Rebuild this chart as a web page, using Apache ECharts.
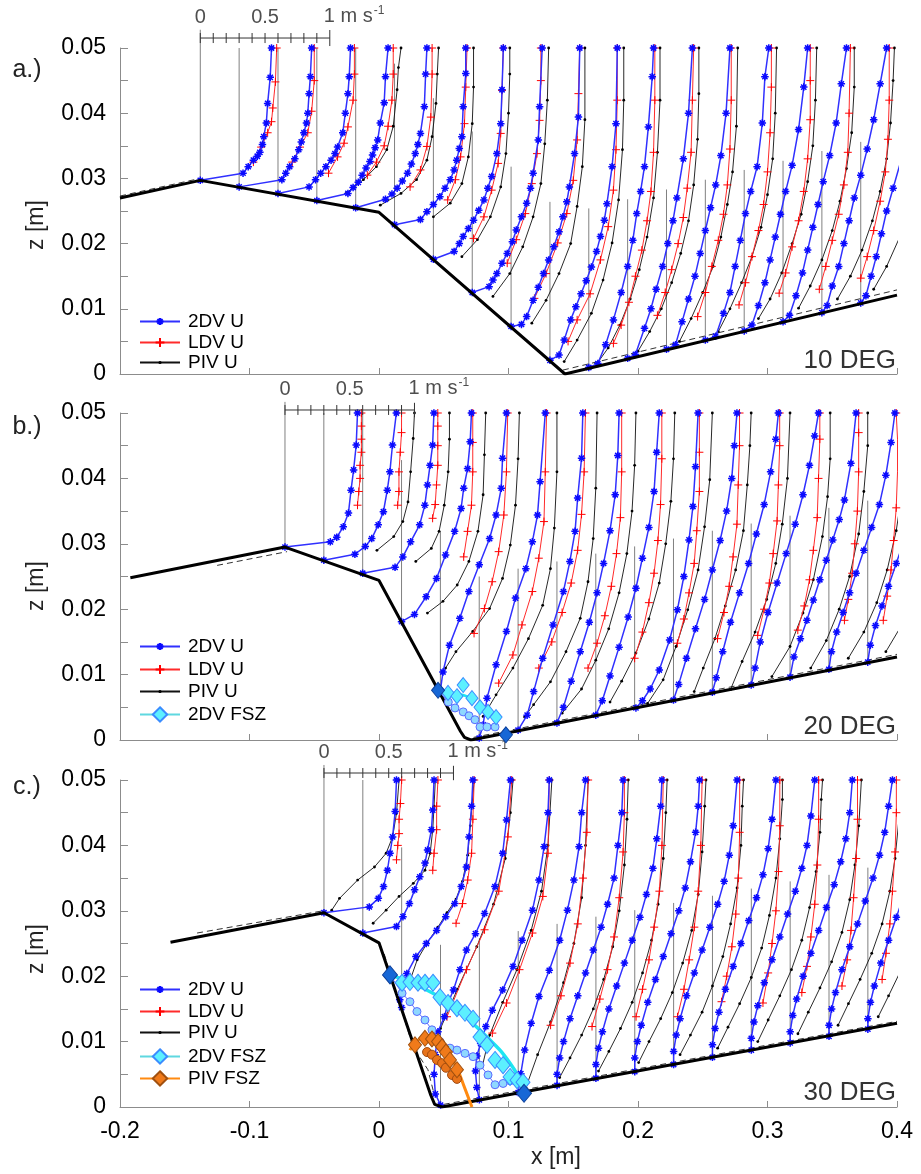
<!DOCTYPE html>
<html><head><meta charset="utf-8">
<script src="https://cdn.jsdelivr.net/npm/echarts@6/dist/echarts.min.js"></script>
<style>html,body{margin:0;padding:0;background:#fff}#c{width:921px;height:1174px}</style>
</head><body><div id="c"></div>
<script>
const FONT = '"Liberation Sans", Arial, Helvetica, sans-serif';
const VEL = 0.1; // 1 m/s of velocity is drawn as 0.1 m along x (scale bar)
const scaleTicks = [0,0.1,0.2,0.3,0.4,0.5,0.6,0.7,0.8,0.9,1.0];
const legendNames = ['2DV U','LDV U','PIV U','2DV FSZ','PIV FSZ'];
const panelTitles = ['a.)','b.)','c.)'];
const panelAngles = ['10 DEG','20 DEG','30 DEG'];

// ================= Panel a (10 DEG) =================
const stationsA = [-0.138,-0.108,-0.078,-0.048,-0.018,0.012,0.042,0.072,0.102,0.132,0.162,0.192,0.222,0.252,0.282,0.312,0.342,0.372];
const baseBotA = [0.0297,0.0286,0.0276,0.0265,0.0254,0.0227,0.0175,0.0124,0.0072,0.0020,0.0009,0.0023,0.0037,0.0051,0.0065,0.0079,0.0093,0.0108];
const baseTopA = [0.0528,0.05,0.05,0.05,0.05,0.0476,0.0423,0.0372,0.0318,0.0264,0.0254,0.0268,0.0283,0.0298,0.0313,0.0327,0.0342,0.0356];
const bedA = [[-0.2,0.027],[-0.138,0.0297],[0,0.0248],[0.1436,0],[0.4,0.0121]];
const bedDashA = [[-0.2,0.0273],[-0.138,0.03],[null,null],[0.142,0.0006],[0.4,0.0129]];
const dv2A = [
 [[0,0.0297],[0.33,0.0308],[0.37,0.0318],[0.41,0.0328],[0.44,0.0334],[0.46,0.034],[0.48,0.0352],[0.49,0.0364],[0.51,0.0385],[0.52,0.0415],[0.54,0.0455],[0.55,0.05]],
 [[0,0.0287],[0.33,0.0298],[0.36,0.0308],[0.39,0.0318],[0.43,0.033],[0.46,0.0344],[0.48,0.0356],[0.50,0.037],[0.52,0.0385],[0.53,0.040],[0.54,0.043],[0.55,0.0456],[0.56,0.05]],
 [[0,0.0277],[0.24,0.0287],[0.29,0.0298],[0.33,0.0308],[0.37,0.0318],[0.41,0.0328],[0.44,0.0338],[0.46,0.0348],[0.50,0.037],[0.52,0.040],[0.54,0.043],[0.55,0.0456],[0.56,0.05]],
 [[0,0.0266],[0.24,0.0277],[0.28,0.0286],[0.32,0.0294],[0.35,0.0305],[0.38,0.0316],[0.41,0.0326],[0.43,0.0336],[0.45,0.0347],[0.47,0.0359],[0.49,0.0385],[0.52,0.0416],[0.53,0.0456],[0.55,0.05]],
 [[0,0.0255],[0.23,0.0268],[0.28,0.0276],[0.32,0.0285],[0.36,0.0296],[0.40,0.0308],[0.43,0.0322],[0.46,0.0338],[0.48,0.0352],[0.50,0.0369],[0.53,0.041],[0.54,0.046],[0.55,0.05]],
 [[0,0.0229],[0.20,0.0237],[0.25,0.0249],[0.30,0.026],[0.35,0.0272],[0.39,0.0285],[0.43,0.0298],[0.46,0.0313],[0.48,0.0328],[0.50,0.0346],[0.52,0.0364],[0.53,0.041],[0.55,0.0461],[0.55,0.05]],
 [[0,0.0176],[0.16,0.0188],[0.20,0.02],[0.23,0.0211],[0.27,0.0223],[0.31,0.0236],[0.35,0.0251],[0.39,0.0267],[0.42,0.0285],[0.45,0.0303],[0.49,0.0338],[0.52,0.0384],[0.53,0.0436],[0.54,0.05]],
 [[0,0.0125],[0.13,0.0134],[0.16,0.0144],[0.19,0.0154],[0.23,0.017],[0.27,0.0185],[0.31,0.0203],[0.34,0.0221],[0.38,0.0241],[0.42,0.0262],[0.45,0.0285],[0.47,0.0308],[0.51,0.0359],[0.52,0.041],[0.54,0.05]],
 [[0,0.0073],[0.08,0.0076],[0.12,0.0088],[0.17,0.0113],[0.21,0.0133],[0.25,0.0154],[0.29,0.0175],[0.33,0.0195],[0.37,0.0218],[0.40,0.0241],[0.43,0.0264],[0.45,0.0287],[0.49,0.0338],[0.52,0.0394],[0.53,0.05]],
 [[0,0.0021],[0.07,0.0029],[0.11,0.0052],[0.16,0.0083],[0.20,0.0103],[0.24,0.0123],[0.28,0.0143],[0.32,0.0164],[0.36,0.0188],[0.39,0.0211],[0.42,0.0236],[0.44,0.0261],[0.48,0.0318],[0.51,0.0384],[0.52,0.05]],
 [[0,0.001],[0.07,0.0016],[0.13,0.0045],[0.19,0.0083],[0.25,0.0125],[0.30,0.0165],[0.34,0.0205],[0.37,0.0246],[0.40,0.028],[0.43,0.0318],[0.46,0.0379],[0.49,0.0456],[0.50,0.05]],
 [[0,0.0024],[0.06,0.003],[0.13,0.007],[0.18,0.01],[0.22,0.013],[0.27,0.0165],[0.31,0.02],[0.35,0.0235],[0.38,0.027],[0.43,0.033],[0.47,0.04],[0.50,0.05]],
 [[0,0.0038],[0.07,0.0045],[0.12,0.008],[0.17,0.0115],[0.22,0.015],[0.26,0.0185],[0.30,0.022],[0.34,0.0255],[0.38,0.029],[0.42,0.0335],[0.46,0.04],[0.49,0.05]],
 [[0,0.0052],[0.08,0.0058],[0.14,0.0093],[0.19,0.0125],[0.23,0.0165],[0.27,0.0205],[0.31,0.0246],[0.35,0.028],[0.40,0.0318],[0.44,0.0385],[0.46,0.0456],[0.49,0.05]],
 [[0,0.0066],[0.06,0.0075],[0.11,0.0105],[0.16,0.014],[0.20,0.0175],[0.24,0.021],[0.28,0.0245],[0.32,0.028],[0.37,0.032],[0.42,0.0375],[0.46,0.044],[0.49,0.05]],
 [[0,0.008],[0.05,0.009],[0.10,0.012],[0.15,0.0155],[0.19,0.019],[0.23,0.0225],[0.27,0.026],[0.31,0.0295],[0.36,0.0335],[0.41,0.0385],[0.45,0.0445],[0.49,0.05]],
 [[0,0.0094],[0.04,0.0105],[0.08,0.0135],[0.13,0.0165],[0.17,0.02],[0.21,0.0235],[0.25,0.027],[0.30,0.0305],[0.35,0.0345],[0.40,0.039],[0.45,0.0445],[0.50,0.05]],
 [[0,0.0109],[0.04,0.012],[0.08,0.015],[0.12,0.018],[0.16,0.0215],[0.20,0.025],[0.25,0.0285],[0.30,0.032],[0.35,0.036],[0.40,0.0405],[0.45,0.0455],[0.50,0.05]]
];
const ldvA = [
 [[0.41,0.0325],[0.47,0.0348],[0.52,0.037],[0.55,0.0387],[0.56,0.0408],[0.58,0.0448],[0.59,0.05]],
 [[0.41,0.0325],[0.47,0.0348],[0.53,0.037],[0.56,0.0403],[0.58,0.045],[0.58,0.05]],
 [[0.39,0.0308],[0.46,0.0333],[0.51,0.0354],[0.54,0.0379],[0.58,0.042],[0.59,0.046],[0.59,0.05]],
 [[0.39,0.0305],[0.46,0.0325],[0.52,0.035],[0.55,0.038],[0.58,0.042],[0.59,0.046],[0.59,0.05]],
 [[0.42,0.0287],[0.50,0.0313],[0.55,0.0349],[0.58,0.0394],[0.59,0.046],[0.59,0.05]],
 [[0.41,0.0267],[0.47,0.0298],[0.51,0.0333],[0.54,0.0384],[0.55,0.044],[0.56,0.05]],
 [[0.31,0.0208],[0.39,0.0241],[0.45,0.0282],[0.50,0.0323],[0.52,0.0369],[0.53,0.0435],[0.54,0.05]],
 [[0.27,0.017],[0.34,0.0206],[0.41,0.0246],[0.46,0.0292],[0.50,0.0338],[0.52,0.0389],[0.53,0.045],[0.53,0.05]],
 [[0.18,0.0116],[0.27,0.0154],[0.36,0.0201],[0.43,0.0246],[0.48,0.0297],[0.51,0.0359],[0.52,0.043],[0.53,0.05]],
 [[0.14,0.005],[0.21,0.0083],[0.31,0.0123],[0.39,0.0175],[0.45,0.0226],[0.49,0.0282],[0.51,0.0344],[0.52,0.042],[0.52,0.05]],
 [[0.19,0.0047],[0.25,0.0075],[0.31,0.011],[0.36,0.015],[0.41,0.019],[0.45,0.0235],[0.48,0.028],[0.50,0.034],[0.51,0.042],[0.51,0.05]],
 [[0.23,0.009],[0.29,0.0125],[0.34,0.016],[0.39,0.02],[0.43,0.024],[0.46,0.0285],[0.49,0.034],[0.50,0.042],[0.51,0.05]],
 [[0.24,0.0088],[0.30,0.0125],[0.35,0.0165],[0.40,0.0205],[0.44,0.0245],[0.47,0.029],[0.49,0.0345],[0.50,0.042],[0.50,0.05]],
 [[0.26,0.0106],[0.31,0.014],[0.36,0.018],[0.41,0.022],[0.45,0.026],[0.48,0.031],[0.50,0.037],[0.51,0.044],[0.51,0.05]],
 [[0.27,0.0124],[0.32,0.0155],[0.37,0.0195],[0.42,0.0235],[0.46,0.028],[0.49,0.033],[0.51,0.039],[0.51,0.045],[0.51,0.05]],
 [[0.28,0.013],[0.33,0.0165],[0.38,0.0205],[0.43,0.0245],[0.47,0.029],[0.50,0.034],[0.51,0.04],[0.52,0.05]],
 [[0.30,0.0147],[0.35,0.018],[0.40,0.022],[0.45,0.0265],[0.49,0.031],[0.51,0.036],[0.52,0.042],[0.52,0.05]],
 [[0.30,0.016],[0.36,0.0195],[0.41,0.0235],[0.46,0.028],[0.50,0.033],[0.52,0.039],[0.53,0.045],[0.53,0.05]]
];
const pivA = [
 null, null, null,
 [[0.23,0.0278],[0.36,0.0298],[0.46,0.0318],[0.54,0.0344],[0.59,0.038],[0.62,0.0436],[0.63,0.047],[0.65,0.05]],
 [[0.19,0.0259],[0.35,0.0277],[0.47,0.0298],[0.55,0.0328],[0.59,0.0364],[0.62,0.0415],[0.63,0.046],[0.64,0.05]],
 [[0.30,0.0241],[0.43,0.0262],[0.52,0.0292],[0.57,0.0333],[0.60,0.0384],[0.61,0.044],[0.61,0.05]],
 [[0.22,0.018],[0.34,0.0206],[0.44,0.0241],[0.52,0.0287],[0.56,0.0338],[0.58,0.04],[0.59,0.046],[0.59,0.05]],
 [[0.16,0.0119],[0.29,0.0154],[0.39,0.0195],[0.47,0.0241],[0.53,0.0292],[0.56,0.0353],[0.58,0.042],[0.59,0.05]],
 [[0.16,0.0078],[0.27,0.0113],[0.37,0.0154],[0.46,0.02],[0.51,0.0257],[0.55,0.0318],[0.57,0.039],[0.57,0.05]],
 [[0.11,0.0019],[0.21,0.0052],[0.32,0.0093],[0.41,0.0144],[0.48,0.0201],[0.53,0.0267],[0.56,0.0344],[0.57,0.042],[0.57,0.05]],
 [[0.06,0.0015],[0.15,0.004],[0.24,0.0075],[0.32,0.0115],[0.39,0.016],[0.45,0.021],[0.50,0.027],[0.53,0.034],[0.55,0.042],[0.55,0.05]],
 [[0.08,0.0035],[0.17,0.0065],[0.26,0.01],[0.34,0.014],[0.41,0.0185],[0.47,0.0235],[0.51,0.029],[0.54,0.036],[0.55,0.043],[0.55,0.05]],
 [[0.10,0.005],[0.19,0.0085],[0.28,0.0125],[0.36,0.0165],[0.42,0.021],[0.47,0.026],[0.51,0.031],[0.54,0.038],[0.55,0.05]],
 [[0.10,0.0065],[0.19,0.01],[0.28,0.014],[0.36,0.018],[0.43,0.0225],[0.48,0.0275],[0.52,0.033],[0.54,0.04],[0.55,0.05]],
 [[0.11,0.0085],[0.20,0.0115],[0.29,0.0155],[0.37,0.02],[0.44,0.0245],[0.49,0.0295],[0.53,0.035],[0.55,0.042],[0.56,0.05]],
 [[0.12,0.0101],[0.21,0.0135],[0.30,0.0175],[0.38,0.022],[0.44,0.0265],[0.49,0.0315],[0.53,0.037],[0.55,0.044],[0.55,0.05]],
 [[0.12,0.0115],[0.22,0.015],[0.31,0.019],[0.39,0.0235],[0.45,0.028],[0.50,0.033],[0.53,0.0385],[0.55,0.045],[0.56,0.05]],
 [[0.10,0.013],[0.20,0.0165],[0.29,0.0205],[0.37,0.025],[0.44,0.0295],[0.49,0.035],[0.53,0.041],[0.55,0.047],[0.56,0.05]]
];

// ================= Panel b (20 DEG) =================
const stationsB = [-0.0726,-0.0426,-0.0126,0.0174,0.0474,0.0774,0.1074,0.1374,0.1674,0.1974,0.2274,0.2574,0.2874,0.3174,0.3474,0.3774];
const baseBotB = [0.0295,0.0274,0.0253,0.018,0.0071,0.0002,0.0014,0.0025,0.0037,0.0048,0.006,0.0072,0.0083,0.0095,0.0107,0.0118];
const baseTopB = [0.0517,0.05,0.05,0.0428,0.0319,0.025,0.0262,0.0273,0.0285,0.0296,0.0308,0.032,0.0331,0.0343,0.0355,0.0366];
const bedB = [[-0.192,0.0248],[-0.0726,0.0295],[0,0.0244],[0.063,0.0013],[0.066,0.0004],[0.071,0],[0.4,0.0127]];
const bedDashB = [[-0.125,0.0267],[-0.071,0.0288],[null,null],[0.073,0.0004],[0.4,0.0131]];
const dv2B = [
 [[0,0.0295],[0.35,0.0303],[0.40,0.031],[0.45,0.0326],[0.49,0.0347],[0.51,0.0382],[0.53,0.0413],[0.55,0.0451],[0.56,0.05]],
 [[0,0.0275],[0.24,0.0284],[0.32,0.0296],[0.37,0.0308],[0.42,0.0329],[0.46,0.0349],[0.49,0.0382],[0.51,0.041],[0.53,0.0451],[0.56,0.05]],
 [[0,0.0255],[0.25,0.0264],[0.31,0.028],[0.37,0.0303],[0.44,0.0329],[0.48,0.0359],[0.50,0.039],[0.52,0.042],[0.54,0.0451],[0.55,0.05]],
 [[0,0.0181],[0.10,0.0192],[0.19,0.0219],[0.27,0.0247],[0.34,0.0283],[0.41,0.0319],[0.46,0.0354],[0.48,0.0385],[0.51,0.0415],[0.53,0.0456],[0.54,0.05]],
 [[0,0.0076],[0.02,0.0104],[0.07,0.0145],[0.15,0.0186],[0.22,0.0227],[0.30,0.0268],[0.38,0.0308],[0.43,0.0344],[0.47,0.0385],[0.48,0.0431],[0.51,0.05]],
 [[0,0.0003],[0.03,0.0023],[0.06,0.0064],[0.13,0.0115],[0.21,0.0166],[0.28,0.0217],[0.36,0.0262],[0.41,0.0303],[0.45,0.0344],[0.47,0.0395],[0.51,0.05]],
 [[0,0.0015],[0.07,0.0038],[0.12,0.0074],[0.19,0.0125],[0.27,0.0176],[0.35,0.0227],[0.40,0.0273],[0.44,0.0319],[0.46,0.037],[0.49,0.0431],[0.50,0.05]],
 [[0,0.0026],[0.05,0.005],[0.11,0.009],[0.18,0.0135],[0.25,0.018],[0.31,0.0225],[0.36,0.027],[0.41,0.032],[0.45,0.0375],[0.47,0.0435],[0.48,0.05]],
 [[0,0.0038],[0.05,0.006],[0.11,0.0098],[0.18,0.0142],[0.25,0.0188],[0.31,0.0232],[0.36,0.0278],[0.41,0.0325],[0.45,0.038],[0.47,0.044],[0.49,0.05]],
 [[0.01,0.0049],[0.06,0.006],[0.12,0.0078],[0.19,0.0107],[0.27,0.0153],[0.33,0.0199],[0.38,0.025],[0.42,0.0306],[0.45,0.0357],[0.47,0.0418],[0.49,0.05]],
 [[0,0.0061],[0.04,0.0085],[0.10,0.0125],[0.17,0.017],[0.24,0.0215],[0.30,0.026],[0.36,0.0305],[0.41,0.035],[0.45,0.04],[0.47,0.045],[0.49,0.05]],
 [[0,0.0073],[0.03,0.0095],[0.08,0.0135],[0.14,0.018],[0.21,0.0225],[0.28,0.027],[0.34,0.0315],[0.40,0.036],[0.45,0.041],[0.49,0.046],[0.51,0.05]],
 [[0,0.0084],[0.03,0.011],[0.07,0.015],[0.13,0.0195],[0.20,0.024],[0.27,0.0285],[0.34,0.033],[0.40,0.0375],[0.45,0.042],[0.49,0.0465],[0.52,0.05]],
 [[0,0.0096],[0.03,0.0127],[0.08,0.0155],[0.13,0.0183],[0.18,0.0214],[0.23,0.0245],[0.28,0.0275],[0.33,0.0306],[0.38,0.0337],[0.42,0.0367],[0.47,0.0423],[0.51,0.05]],
 [[0,0.0108],[0.02,0.0135],[0.06,0.0165],[0.11,0.0195],[0.16,0.0225],[0.21,0.0255],[0.27,0.029],[0.33,0.0325],[0.39,0.036],[0.44,0.0405],[0.48,0.0455],[0.51,0.05]],
 [[0,0.0119],[0.02,0.0145],[0.06,0.0175],[0.11,0.0205],[0.16,0.0235],[0.22,0.027],[0.28,0.0305],[0.34,0.034],[0.40,0.038],[0.45,0.0425],[0.49,0.047],[0.51,0.05]]
];
const ldvB = [
 [[0.56,0.0359],[0.57,0.038],[0.58,0.040],[0.58,0.042],[0.59,0.044],[0.59,0.046],[0.59,0.048],[0.59,0.05]],
 [[0.57,0.0359],[0.58,0.038],[0.58,0.041],[0.59,0.044],[0.60,0.047],[0.60,0.05]],
 [[0.54,0.0339],[0.56,0.036],[0.57,0.039],[0.58,0.042],[0.58,0.045],[0.58,0.048],[0.58,0.05]],
 [[0.48,0.028],[0.51,0.0319],[0.54,0.0359],[0.55,0.041],[0.55,0.0455],[0.55,0.05]],
 [[0.26,0.0163],[0.34,0.0201],[0.40,0.0242],[0.45,0.0288],[0.49,0.0344],[0.51,0.041],[0.52,0.05]],
 [[0.15,0.0087],[0.26,0.013],[0.33,0.0176],[0.41,0.0227],[0.46,0.0278],[0.50,0.0334],[0.51,0.041],[0.52,0.05]],
 [[0.16,0.011],[0.26,0.015],[0.34,0.0195],[0.41,0.024],[0.46,0.029],[0.49,0.0345],[0.51,0.041],[0.52,0.05]],
 [[0.24,0.011],[0.31,0.0148],[0.37,0.019],[0.42,0.0235],[0.46,0.0285],[0.49,0.034],[0.50,0.041],[0.50,0.05]],
 [[0.30,0.0125],[0.36,0.0165],[0.41,0.021],[0.45,0.0255],[0.48,0.0305],[0.50,0.036],[0.51,0.043],[0.51,0.05]],
 [[0.33,0.0148],[0.38,0.0185],[0.42,0.0225],[0.46,0.027],[0.48,0.032],[0.50,0.038],[0.50,0.044],[0.50,0.05]],
 [[0.34,0.0155],[0.39,0.0195],[0.43,0.0235],[0.46,0.028],[0.49,0.033],[0.50,0.039],[0.51,0.045],[0.51,0.05]],
 [[0.35,0.016],[0.40,0.02],[0.44,0.024],[0.47,0.0285],[0.50,0.0335],[0.51,0.039],[0.52,0.045],[0.52,0.05]],
 [[0.36,0.0168],[0.41,0.0205],[0.45,0.0245],[0.48,0.029],[0.51,0.034],[0.52,0.04],[0.53,0.046],[0.53,0.05]],
 [[0.42,0.0183],[0.45,0.0215],[0.48,0.0255],[0.50,0.03],[0.52,0.035],[0.53,0.041],[0.53,0.047],[0.53,0.05]],
 [[0.42,0.0183],[0.45,0.022],[0.48,0.026],[0.50,0.0305],[0.52,0.0355],[0.53,0.041],[0.53,0.046],[0.52,0.05]],
 [[0.42,0.019],[0.45,0.023],[0.48,0.027],[0.50,0.032],[0.52,0.037],[0.53,0.043],[0.53,0.05]]
];
const pivB = [
 null,
 [[0.41,0.029],[0.54,0.0311],[0.61,0.0334],[0.65,0.0364],[0.67,0.041],[0.69,0.0461],[0.70,0.05]],
 [[0.41,0.0273],[0.53,0.0293],[0.59,0.0319],[0.63,0.0359],[0.66,0.041],[0.67,0.046],[0.67,0.05]],
 [[0.20,0.0194],[0.32,0.0212],[0.43,0.0237],[0.52,0.0273],[0.59,0.0319],[0.63,0.0375],[0.64,0.0436],[0.65,0.05]],
 [[0.04,0.011],[0.12,0.0135],[0.25,0.0166],[0.38,0.0201],[0.48,0.0247],[0.54,0.0298],[0.58,0.0359],[0.60,0.043],[0.61,0.05]],
 [[0.03,0.0036],[0.13,0.0069],[0.26,0.011],[0.38,0.0155],[0.49,0.0206],[0.55,0.0262],[0.58,0.0324],[0.60,0.041],[0.60,0.05]],
 [[0.05,0.0035],[0.12,0.0054],[0.25,0.0089],[0.37,0.0135],[0.48,0.0186],[0.54,0.0242],[0.58,0.0308],[0.60,0.0385],[0.61,0.05]],
 [[0.04,0.0041],[0.19,0.0078],[0.30,0.0122],[0.40,0.017],[0.48,0.0225],[0.54,0.0285],[0.58,0.035],[0.60,0.042],[0.61,0.05]],
 [[0.11,0.0058],[0.20,0.009],[0.31,0.0133],[0.41,0.0185],[0.49,0.024],[0.54,0.03],[0.58,0.0365],[0.60,0.043],[0.61,0.05]],
 [[0.10,0.0056],[0.22,0.0092],[0.32,0.0143],[0.41,0.0199],[0.49,0.026],[0.54,0.0326],[0.58,0.0398],[0.60,0.05]],
 [[0.16,0.0074],[0.23,0.011],[0.32,0.0155],[0.40,0.0205],[0.48,0.026],[0.54,0.032],[0.57,0.039],[0.59,0.045],[0.60,0.05]],
 [[0.14,0.0077],[0.23,0.012],[0.33,0.0165],[0.42,0.0215],[0.49,0.027],[0.54,0.033],[0.58,0.04],[0.60,0.05]],
 [[0.16,0.0097],[0.30,0.0143],[0.40,0.0194],[0.48,0.0245],[0.55,0.0311],[0.59,0.0372],[0.61,0.043],[0.61,0.05]],
 [[0.16,0.011],[0.28,0.0152],[0.38,0.02],[0.46,0.025],[0.53,0.0315],[0.57,0.038],[0.60,0.045],[0.60,0.05]],
 [[0.15,0.0125],[0.27,0.0165],[0.37,0.021],[0.45,0.026],[0.52,0.032],[0.57,0.0385],[0.60,0.045],[0.61,0.05]],
 [[0.14,0.0135],[0.26,0.0175],[0.36,0.022],[0.44,0.027],[0.51,0.0325],[0.56,0.039],[0.59,0.046],[0.60,0.05]]
];
const fszDiamB = [[0.0533,0.0072],[0.0602,0.0067],[0.065,0.0084],[0.0718,0.0064],[0.078,0.005],[0.0842,0.0043],[0.0904,0.0035]];
const fszFitB = [[0.0456,0.0076],[0.053,0.0074],[0.06,0.0071],[0.066,0.0068],[0.071,0.0064]];
const fszCircB = [[0.0456,0.0076],[0.0535,0.0058],[0.0587,0.0049],[0.065,0.0043],[0.0695,0.0037],[0.0741,0.0031],[0.078,0.002],[0.0834,0.002],[0.0896,0.002]];
const fszEndsB = [[0.0456,0.0076],[0.098,0.0008]];

// ================= Panel c (30 DEG) =================
const stationsC = [-0.0425,-0.0125,0.0175,0.0475,0.0775,0.1075,0.1375,0.1675,0.1975,0.2275,0.2575,0.2875,0.3175,0.3475,0.3775];
const baseBotC = [0.0297,0.0265,0.0149,0.0,0.001,0.0021,0.0032,0.0043,0.0053,0.0064,0.0075,0.0086,0.0097,0.0107,0.0118];
const baseTopC = [0.0523,0.05,0.0397,0.0248,0.0258,0.0269,0.028,0.0291,0.0301,0.0312,0.0323,0.0334,0.0345,0.0355,0.0366];
const bedC = [[-0.161,0.0252],[-0.0425,0.0297],[0,0.0251],[0.04,0.0018],[0.043,0.0004],[0.0486,0],[0.4,0.0128]];
const bedDashC = [[-0.1405,0.0266],[-0.0432,0.03],[null,null],[0.004,0.0234],[0.0263,0.0092],[0.0378,0.0057],[0.042,0.0024],[null,null],[0.05,0.0004],[0.4,0.0131]];
const dv2C = [
 [[0,0.0297],[0.35,0.0306],[0.42,0.0319],[0.46,0.0337],[0.49,0.0362],[0.51,0.0388],[0.53,0.0413],[0.55,0.0452],[0.56,0.05]],
 [[0,0.0266],[0.26,0.0276],[0.31,0.0291],[0.36,0.0311],[0.40,0.0332],[0.44,0.0352],[0.48,0.0373],[0.50,0.0393],[0.53,0.0424],[0.54,0.0454],[0.55,0.05]],
 [[0,0.0152],[-0.015,0.0164],[0.04,0.0204],[0.11,0.023],[0.19,0.025],[0.27,0.027],[0.34,0.0291],[0.41,0.0311],[0.46,0.0337],[0.50,0.0367],[0.52,0.0413],[0.54,0.046],[0.55,0.05]],
 [[0,0.0003],[-0.04,0.002],[-0.05,0.005],[-0.04,0.008],[-0.02,0.0115],[0.03,0.0138],[0.06,0.016],[0.10,0.0179],[0.15,0.021],[0.20,0.024],[0.27,0.0265],[0.34,0.0296],[0.42,0.0337],[0.48,0.0388],[0.51,0.0439],[0.54,0.05]],
 [[0,0.0011],[-0.02,0.003],[-0.03,0.0055],[-0.02,0.0078],[0.01,0.0097],[0.05,0.0123],[0.10,0.0148],[0.18,0.0179],[0.26,0.0215],[0.33,0.0255],[0.41,0.0301],[0.46,0.0347],[0.50,0.0398],[0.53,0.045],[0.54,0.05]],
 [[0,0.0022],[0.02,0.0051],[0.05,0.0087],[0.10,0.0128],[0.16,0.0169],[0.24,0.0209],[0.32,0.0255],[0.38,0.0301],[0.43,0.0347],[0.47,0.0398],[0.49,0.045],[0.52,0.05]],
 [[0,0.0033],[0.0,0.005],[0.02,0.0075],[0.05,0.01],[0.10,0.0135],[0.16,0.017],[0.22,0.0205],[0.28,0.024],[0.34,0.0275],[0.39,0.031],[0.44,0.035],[0.47,0.04],[0.50,0.045],[0.51,0.05]],
 [[0,0.0044],[0.0,0.0065],[0.02,0.009],[0.05,0.0115],[0.10,0.015],[0.16,0.0185],[0.22,0.022],[0.28,0.0255],[0.34,0.029],[0.39,0.0325],[0.44,0.0365],[0.47,0.041],[0.50,0.046],[0.51,0.05]],
 [[0,0.0054],[0,0.0075],[0.02,0.01],[0.05,0.0125],[0.10,0.016],[0.16,0.0195],[0.22,0.023],[0.28,0.0265],[0.34,0.03],[0.39,0.0335],[0.43,0.0375],[0.47,0.042],[0.49,0.046],[0.50,0.05]],
 [[0,0.0065],[0,0.0085],[0.02,0.011],[0.05,0.0135],[0.10,0.017],[0.16,0.0205],[0.22,0.024],[0.28,0.0275],[0.34,0.031],[0.39,0.0345],[0.43,0.0385],[0.46,0.043],[0.49,0.05]],
 [[0,0.0076],[0,0.0095],[0.02,0.012],[0.05,0.0145],[0.10,0.018],[0.16,0.0215],[0.22,0.025],[0.28,0.0285],[0.34,0.032],[0.39,0.0355],[0.43,0.0395],[0.46,0.044],[0.49,0.05]],
 [[0,0.0087],[0,0.0105],[0.02,0.013],[0.05,0.0155],[0.10,0.019],[0.16,0.0225],[0.22,0.026],[0.28,0.0295],[0.34,0.033],[0.39,0.0365],[0.43,0.04],[0.46,0.0445],[0.49,0.05]],
 [[0,0.0098],[0,0.0115],[0.02,0.014],[0.05,0.0165],[0.10,0.02],[0.16,0.0235],[0.22,0.027],[0.28,0.0305],[0.34,0.034],[0.39,0.0375],[0.43,0.041],[0.46,0.045],[0.48,0.05]],
 [[0,0.0108],[0,0.0125],[0.02,0.015],[0.05,0.0175],[0.10,0.021],[0.16,0.0245],[0.22,0.028],[0.28,0.0315],[0.34,0.035],[0.39,0.0385],[0.43,0.042],[0.46,0.046],[0.49,0.05]],
 [[0,0.0119],[0,0.0135],[0.02,0.016],[0.05,0.0185],[0.10,0.022],[0.16,0.0255],[0.22,0.029],[0.28,0.0325],[0.34,0.036],[0.39,0.0395],[0.43,0.043],[0.46,0.047],[0.49,0.05]]
];
const ldvC = [
 [[0.56,0.0378],[0.57,0.040],[0.58,0.0418],[0.58,0.044],[0.59,0.0464],[0.60,0.05]],
 [[0.54,0.0362],[0.55,0.0388],[0.57,0.0424],[0.57,0.046],[0.58,0.05]],
 [[0.42,0.0281],[0.47,0.0311],[0.51,0.0347],[0.54,0.0388],[0.55,0.044],[0.56,0.05]],
 [[0.05,0.0138],[0.20,0.021],[0.34,0.0271],[0.45,0.033],[0.52,0.0413],[0.55,0.05]],
 [[0.10,0.0113],[0.21,0.0159],[0.31,0.021],[0.41,0.0266],[0.49,0.0322],[0.53,0.0388],[0.54,0.05]],
 [[0.25,0.0125],[0.33,0.017],[0.40,0.022],[0.46,0.028],[0.50,0.035],[0.53,0.042],[0.54,0.05]],
 [[0.27,0.0123],[0.33,0.0165],[0.39,0.021],[0.44,0.026],[0.48,0.032],[0.51,0.039],[0.52,0.045],[0.52,0.05]],
 [[0.31,0.0138],[0.36,0.018],[0.41,0.0225],[0.45,0.0275],[0.49,0.033],[0.51,0.04],[0.52,0.05]],
 [[0.33,0.0138],[0.38,0.018],[0.42,0.0225],[0.46,0.0275],[0.49,0.033],[0.51,0.04],[0.52,0.05]],
 [[0.37,0.0161],[0.41,0.02],[0.45,0.0245],[0.48,0.0295],[0.50,0.035],[0.51,0.042],[0.51,0.05]],
 [[0.39,0.0159],[0.43,0.0205],[0.46,0.025],[0.49,0.03],[0.51,0.036],[0.52,0.043],[0.52,0.05]],
 [[0.39,0.0175],[0.43,0.0215],[0.46,0.026],[0.49,0.031],[0.51,0.037],[0.52,0.044],[0.52,0.05]],
 [[0.40,0.0185],[0.44,0.0225],[0.47,0.027],[0.49,0.032],[0.51,0.038],[0.52,0.044],[0.52,0.05]],
 [[0.41,0.0195],[0.44,0.0235],[0.47,0.028],[0.49,0.033],[0.51,0.039],[0.52,0.045],[0.52,0.05]],
 [[0.41,0.021],[0.44,0.025],[0.47,0.029],[0.49,0.034],[0.51,0.04],[0.52,0.046],[0.52,0.05]]
];
const pivC = [
 [[0.06,0.0301],[0.12,0.0319],[0.26,0.0347],[0.39,0.0367],[0.48,0.0388],[0.53,0.0413],[0.56,0.0449],[0.58,0.05]],
 [[0.08,0.0281],[0.18,0.0301],[0.28,0.0322],[0.39,0.0342],[0.48,0.0362],[0.52,0.0388],[0.54,0.0424],[0.55,0.046],[0.56,0.05]],
 [[0.05,0.0185],[0.12,0.0225],[0.20,0.0252],[0.28,0.0275],[0.35,0.0297],[0.42,0.0318],[0.47,0.0345],[0.51,0.0385],[0.53,0.043],[0.56,0.05]],
 [[0.0,0.012],[0.13,0.018],[0.28,0.0245],[0.41,0.031],[0.50,0.038],[0.54,0.045],[0.56,0.05]],
 [[0.02,0.006],[0.08,0.011],[0.18,0.016],[0.29,0.021],[0.40,0.027],[0.48,0.033],[0.53,0.04],[0.56,0.05]],
 [[0.06,0.003],[0.15,0.008],[0.25,0.013],[0.35,0.019],[0.43,0.025],[0.49,0.032],[0.52,0.04],[0.54,0.05]],
 [[0.02,0.0045],[0.10,0.0075],[0.19,0.011],[0.28,0.015],[0.36,0.0195],[0.43,0.0245],[0.48,0.03],[0.52,0.037],[0.54,0.044],[0.55,0.05]],
 [[0.02,0.0055],[0.10,0.0085],[0.19,0.012],[0.28,0.016],[0.36,0.0205],[0.43,0.0255],[0.48,0.031],[0.52,0.038],[0.54,0.045],[0.55,0.05]],
 [[0.03,0.0068],[0.11,0.01],[0.20,0.0135],[0.29,0.0175],[0.37,0.022],[0.44,0.027],[0.49,0.0325],[0.52,0.039],[0.54,0.046],[0.55,0.05]],
 [[0.05,0.008],[0.13,0.011],[0.22,0.0145],[0.30,0.0185],[0.38,0.023],[0.44,0.028],[0.49,0.0335],[0.52,0.04],[0.53,0.046],[0.54,0.05]],
 [[0.04,0.009],[0.12,0.0122],[0.21,0.0158],[0.30,0.0198],[0.38,0.0243],[0.44,0.0293],[0.49,0.035],[0.52,0.041],[0.54,0.047],[0.54,0.05]],
 [[0.05,0.01],[0.13,0.0133],[0.22,0.017],[0.31,0.021],[0.39,0.0255],[0.45,0.0305],[0.50,0.036],[0.53,0.042],[0.54,0.047],[0.55,0.05]],
 [[0.06,0.0112],[0.14,0.0145],[0.23,0.0182],[0.32,0.0222],[0.40,0.0267],[0.46,0.0317],[0.50,0.037],[0.53,0.043],[0.55,0.05]],
 [[0.07,0.0125],[0.15,0.0158],[0.24,0.0195],[0.33,0.0235],[0.41,0.028],[0.47,0.033],[0.51,0.038],[0.54,0.044],[0.55,0.05]],
 [[0.08,0.0138],[0.16,0.017],[0.25,0.0207],[0.34,0.0247],[0.42,0.029],[0.48,0.034],[0.52,0.039],[0.54,0.045],[0.55,0.05]]
];
const fszDiamC = [[0.0178,0.019],[0.0239,0.0191],[0.0301,0.019],[0.0355,0.019],[0.0417,0.019],[0.0471,0.0168],[0.0533,0.0159],[0.0602,0.0151],[0.0664,0.0144],[0.0726,0.0135],[0.078,0.0107],[0.0834,0.0095],[0.0896,0.0072],[0.0958,0.0064],[0.1012,0.0046],[0.1066,0.0041],[0.1112,0.0038]];
const fszFitC = [[0.0085,0.0202],[0.0317,0.0184],[0.0572,0.0153],[0.0834,0.0107],[0.1012,0.0067],[0.1127,0.0026]];
const fszCircC = [[0.0085,0.0202],[0.0178,0.0174],[0.0239,0.0161],[0.0293,0.0146],[0.0355,0.0133],[0.0409,0.0118],[0.0471,0.01],[0.0548,0.009],[0.0602,0.0087],[0.0664,0.0082],[0.0726,0.0077],[0.078,0.0064],[0.0842,0.0049],[0.0896,0.0034],[0.0958,0.0036],[0.1012,0.004],[0.112,0.0021]];
const fszEndsC = [[0.0085,0.0202],[0.112,0.0021]];
const pivFszDiamC = [[0.0278,0.0095],[0.0355,0.0105],[0.0409,0.0104],[0.0456,0.01],[0.0487,0.0092],[0.0517,0.0084],[0.0548,0.0072],[0.0602,0.0057]];
const pivFszCircC = [[0.0371,0.0084],[0.0409,0.008],[0.0448,0.0072],[0.0487,0.0067],[0.0517,0.006],[0.0564,0.0049],[0.0602,0.0043]];
const pivFszFitC = [[0.0239,0.0087],[0.03,0.0102],[0.037,0.0108],[0.045,0.0104],[0.052,0.0088],[0.06,0.006],[0.066,0.003],[0.0718,0]];

// ================= build =================
const STAR = 'path://M0,-10L0,10M-10,0L10,0M-7,-7L7,7M-7,7L7,-7';
const PLUS = 'path://M0,-10L0,10M-10,0L10,0';
const BR = [null,null];
function prof(st, list){ const o=[]; list.forEach((p,i)=>{ if(!p) return; p.forEach(q=>o.push([st[i]+q[0]*VEL,q[1]])); o.push(BR); }); return o; }
function bases(st, bot, top){ const o=[]; st.forEach((x,i)=>{ o.push([x,bot[i]],[x,top[i]],BR); }); return o; }
function scaleBar(x0, zb, half, endHalf){ const o=[[x0,zb],[x0+VEL,zb],BR]; scaleTicks.forEach(t=>{ const h=(t===1)?endHalf:half; o.push([x0+t*VEL,zb-h],[x0+t*VEL,zb+h],BR); }); return o; }

const GRID_TOP = [48, 413, 780], GRID_H = [326, 327, 327];
const panels = [
 {st:stationsA, bot:baseBotA, top:baseTopA, bed:bedA, dash:bedDashA, dv:dv2A, ldv:ldvA, piv:pivA, zb:0.05153, half:0.00077, endHalf:0.00123},
 {st:stationsB, bot:baseBotB, top:baseTopB, bed:bedB, dash:bedDashB, dv:dv2B, ldv:ldvB, piv:pivB, zb:0.05046, half:0.00076, endHalf:0.0011},
 {st:stationsC, bot:baseBotC, top:baseTopC, bed:bedC, dash:bedDashC, dv:dv2C, ldv:ldvC, piv:pivC, zb:0.05107, half:0.00076, endHalf:0.0011}
];
const grids=[], xAxes=[], yAxes=[], series=[];
const AX = '#8c8c8c';
panels.forEach((p,i)=>{
  grids.push({left:120, width:777, top:GRID_TOP[i], height:GRID_H[i]});
  xAxes.push({gridIndex:i, type:'value', min:-0.2, max:0.4, interval:0.1,
    axisLine:{show:true,onZero:false,lineStyle:{color:AX,width:1}},
    axisTick:{show:true,inside:true,length:6,lineStyle:{color:AX}},
    axisLabel:{show:i===2,fontSize:23,color:'#000',margin:13,fontFamily:FONT},
    splitLine:{show:false}});
  yAxes.push({gridIndex:i, type:'value', min:0, max:0.05, interval:0.01,
    axisLine:{show:true,onZero:false,lineStyle:{color:AX,width:1}},
    axisTick:{show:true,inside:true,length:8,lineStyle:{color:AX}},
    minorTick:{show:true,splitNumber:2,length:8,lineStyle:{color:AX}},
    axisLabel:{fontSize:23,color:'#000',margin:14,fontFamily:FONT},
    splitLine:{show:false}, minorSplitLine:{show:false}});
  const ax = {xAxisIndex:i, yAxisIndex:i, animation:false, silent:true};
  series.push(Object.assign({type:'line', data:bases(p.st,p.bot,p.top), symbol:'none', clip:false, lineStyle:{color:'#808080',width:1}, z:1}, ax));
  series.push(Object.assign({type:'line', data:p.dash, symbol:'none', lineStyle:{color:'#333',width:1,type:[6,4]}, z:2}, ax));
  series.push(Object.assign({type:'line', name:'PIV U', data:prof(p.st,p.piv), symbol:'circle', symbolSize:2.8, lineStyle:{color:'#111',width:0.9}, itemStyle:{color:'#000'}, z:3}, ax));
  series.push(Object.assign({type:'line', name:'LDV U', data:prof(p.st,p.ldv), symbol:PLUS, symbolSize:8, lineStyle:{color:'#ff2b2b',width:1}, itemStyle:{color:'#ff0000',borderColor:'#ff0000',borderWidth:1}, z:4}, ax));
  series.push(Object.assign({type:'line', name:'2DV U', data:prof(p.st,p.dv), symbol:STAR, symbolSize:7.5, lineStyle:{color:'#3030ff',width:1.5}, itemStyle:{color:'#0000ff',borderColor:'#0a0aff',borderWidth:1.5}, z:5}, ax));
  series.push(Object.assign({type:'line', data:p.bed, symbol:'none', lineStyle:{color:'#000',width:3}, z:6}, ax));
  // velocity scale bar
  const x0 = p.st[0];
  series.push(Object.assign({type:'line', data:scaleBar(x0,p.zb,p.half,p.endHalf), symbol:'none', clip:false, lineStyle:{color:'#333',width:1}, z:6}, ax));
  series.push(Object.assign({type:'scatter', clip:false, symbolSize:0, data:[
      {value:[x0,p.zb], label:{formatter:'0'}},
      {value:[x0+0.5*VEL,p.zb], label:{formatter:'0.5'}},
      {value:[x0+1*VEL,p.zb], label:{formatter:'{a|1 m s}{b|-1}', align:'left', offset:[-6,0]}}],
    label:{show:true, position:'top', distance:11, color:'#222', fontSize:20, fontFamily:FONT,
      rich:{a:{fontSize:20,fontFamily:FONT,color:'#222'}, b:{fontSize:12,fontFamily:FONT,color:'#222',verticalAlign:'top',padding:[0,0,10,1]}}}, z:7}, ax));
});
// free-stream separation zone (FSZ) marks
const axB = {xAxisIndex:1, yAxisIndex:1, animation:false, silent:true};
const axC = {xAxisIndex:2, yAxisIndex:2, animation:false, silent:true};
const CY = '#1ee6f2';
function fszSeries(ax, fit, circ, diam, ends, fitW, dSize){
  return [
    Object.assign({type:'line', data:fit, smooth:true, symbol:'none', lineStyle:{color:CY,width:fitW}, z:8}, ax),
    Object.assign({type:'line', data:circ, symbol:'circle', symbolSize:8, lineStyle:{color:'#5a6cff',width:1}, itemStyle:{color:'#8fd8ff',borderColor:'#5a6cff',borderWidth:1}, z:9}, ax),
    Object.assign({type:'line', name:'2DV FSZ', data:diam, symbol:'diamond', symbolSize:dSize, lineStyle:{color:CY,width:2,opacity:0}, itemStyle:{color:'#5cf0ff',borderColor:'#3a8cff',borderWidth:1}, z:10}, ax),
    Object.assign({type:'line', data:ends, symbol:'diamond', symbolSize:[dSize[0]+1,dSize[1]+1], lineStyle:{opacity:0}, itemStyle:{color:'#1767d6',borderColor:'#0c3f9a',borderWidth:1}, z:11}, ax)
  ];
}
fszSeries(axB, fszFitB, fszCircB, fszDiamB, fszEndsB, 2.5, [12,15]).forEach(s=>series.push(s));
fszSeries(axC, fszFitC, fszCircC, fszDiamC, fszEndsC, 3.5, [14,17]).forEach(s=>series.push(s));
series.push(Object.assign({type:'line', data:pivFszFitC, smooth:true, symbol:'none', lineStyle:{color:'#ff8a10',width:3}, z:8}, axC));
series.push(Object.assign({type:'line', data:pivFszCircC, symbol:'circle', symbolSize:9, lineStyle:{opacity:0}, itemStyle:{color:'#e8731a',borderColor:'#a14a10',borderWidth:1}, z:9}, axC));
series.push(Object.assign({type:'line', name:'PIV FSZ', data:pivFszDiamC, symbol:'diamond', symbolSize:[13,16], lineStyle:{color:'#ff8a10',width:2,opacity:0}, itemStyle:{color:'#f07a1a',borderColor:'#a0500f',borderWidth:1}, z:10}, axC));

// legends: one component per entry so each icon can take its own size
const LEG_Y = [[322,343,363],[647,670,692,715],[990,1012,1033,1057,1079]];
const LEG_H = {'2DV U':9,'LDV U':11,'PIV U':4,'2DV FSZ':18,'PIV FSZ':18};
const legends = [];
LEG_Y.forEach(ys=>{ ys.forEach((cy,k)=>{
  const name = legendNames[k];
  const item = {name};
  if (name==='2DV FSZ') item.lineStyle = {color:'#5fd8e0',width:2,opacity:1};
  if (name==='PIV FSZ') item.lineStyle = {color:'#ff8a10',width:2,opacity:1};
  legends.push({left:139, top:cy-10, padding:0, itemWidth:40, itemHeight:LEG_H[name], selectedMode:false, data:[item],
    textStyle:{fontSize:19,color:'#000',fontFamily:FONT,padding:[0,0,0,3]}});
});});

const TXT = (t,x,y,size,extra)=>Object.assign({type:'text', x, y, silent:true, style:{text:t, font:size+'px '+FONT, fill:'#222', align:'center', verticalAlign:'middle'}}, extra||{});
const graphic = [
  TXT(panelTitles[0],27,70,25), TXT(panelTitles[1],27,427,25), TXT(panelTitles[2],27,787,25),
  TXT('z [m]',37,225,23,{rotation:Math.PI/2}), TXT('z [m]',37,586,23,{rotation:Math.PI/2}), TXT('z [m]',37,949,23,{rotation:Math.PI/2}),
  TXT('x [m]',556,1158,23)
];
[361,727,1093].forEach((cy,i)=>{ const g = TXT(panelAngles[i],896,cy,26); g.style.align='right'; g.style.fill='#333'; graphic.push(g); });

const chart = echarts.init(document.getElementById('c'), null, {renderer:'canvas'});
chart.setOption({animation:false, backgroundColor:'#fff', grid:grids, xAxis:xAxes, yAxis:yAxes, series, legend:legends, graphic});
</script></body></html>
